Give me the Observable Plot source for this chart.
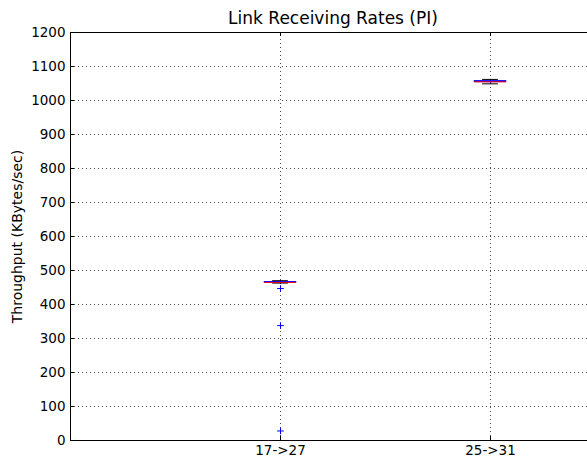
<!DOCTYPE html>
<html>
<head>
<meta charset="utf-8">
<script src="https://cdn.jsdelivr.net/npm/d3@7"></script>
<script src="https://cdn.jsdelivr.net/npm/@observablehq/plot@0.6"></script>
<style>
  html, body { margin: 0; padding: 0; background: #fff; overflow: hidden; }
  svg { display: block; }
</style>
</head>
<body>
<div id="chart"></div>
<script>
// ---- data ----
const title = "Link Receiving Rates (PI)";
const yLabel = "Throughput (KBytes/sec)";
const categories = ["17->27", "25->31"];
const positions = [1, 2];
const q1 = [464, 1054];
const median = [465, 1055];
const q3 = [466, 1057];
const whiskerLow = [463, 1049];
const whiskerHigh = [470, 1062];
const flierPosition = [1, 1, 1];
const flierValue = [447, 338, 28];
const yTicks = [0, 100, 200, 300, 400, 500, 600, 700, 800, 900, 1000, 1100, 1200];

// ---- derived tables ----
const boxes = positions.map((p, i) => ({
  pos: p, q1: q1[i], med: median[i], q3: q3[i], lo: whiskerLow[i], hi: whiskerHigh[i]
}));
const fliers = flierPosition.map((p, i) => ({pos: p, v: flierValue[i]}));
const halfBox = 0.075, halfCap = 0.0375;
const xMax = 2.5;
const pxPerX = 210;
const tickLen = 4 / pxPerX;

const chart = Plot.plot({
  width: 587,
  height: 460,
  marginLeft: 70,
  marginRight: 0,
  marginTop: 32,
  marginBottom: 20,
  style: {fontFamily: "DejaVu Sans", fontSize: "13px", color: "black", background: "white"},
  x: {domain: [0, xMax], range: [70, 595]},
  y: {domain: [0, 1200]},
  marks: [
    // dotted grid
    Plot.ruleY(yTicks.slice(1, -1), {x1: 0, x2: xMax, stroke: "black", strokeWidth: 0.7, strokeDasharray: "1,3"}),
    Plot.ruleX(positions, {y1: 0, y2: 1200, stroke: "black", strokeWidth: 0.7, strokeDasharray: "1,3"}),
    // inward ticks
    Plot.ruleY(yTicks, {x1: 0, x2: tickLen, stroke: "black"}),
    Plot.ruleX(positions, {y1: 0, y2: 4 / 0.34, stroke: "black"}),
    Plot.ruleX(positions, {y1: 1200, y2: 1200 - 4 / 0.34, stroke: "black"}),
    // whiskers
    Plot.ruleX(boxes, {x: "pos", y1: "q3", y2: "hi", stroke: "blue", strokeDasharray: "4,2"}),
    Plot.ruleX(boxes, {x: "pos", y1: "q1", y2: "lo", stroke: "blue", strokeDasharray: "4,2"}),
    // caps
    Plot.ruleY(boxes, {y: "hi", x1: d => d.pos - halfCap, x2: d => d.pos + halfCap, stroke: "black"}),
    Plot.ruleY(boxes, {y: "lo", x1: d => d.pos - halfCap, x2: d => d.pos + halfCap, stroke: "black"}),
    // boxes
    Plot.rect(boxes, {x1: d => d.pos - halfBox, x2: d => d.pos + halfBox, y1: "q1", y2: "q3", stroke: "blue", fill: "none"}),
    // medians
    Plot.ruleY(boxes, {y: "med", x1: d => d.pos - halfBox, x2: d => d.pos + halfBox, stroke: "red"}),
    // fliers
    Plot.dot(fliers, {x: "pos", y: "v", symbol: "plus", stroke: "blue", r: 2.3, strokeWidth: 1}),
    // frame (right edge falls outside the picture)
    Plot.ruleY([0, 1200], {x1: 0, x2: xMax, stroke: "black"}),
    Plot.ruleX([0], {y1: 0, y2: 1200, stroke: "black"}),
    // axes
    Plot.axisY(yTicks, {tickSize: 0, tickPadding: 5, tickFormat: d => String(d), label: null, fontSize: 13.5}),
    Plot.axisX(positions, {tickSize: 0, tickPadding: 5, tickFormat: d => categories[d - 1], label: null, fontSize: 13.5}),
    Plot.text([yLabel], {x: -53 / pxPerX, y: 600, rotate: -90, fontSize: 14, fill: "black"}),
    // title
    Plot.text([title], {x: xMax / 2, y: 1200, dy: -14, fontSize: 17, fill: "black"})
  ]
});
document.getElementById("chart").appendChild(chart);
</script>
</body>
</html>
